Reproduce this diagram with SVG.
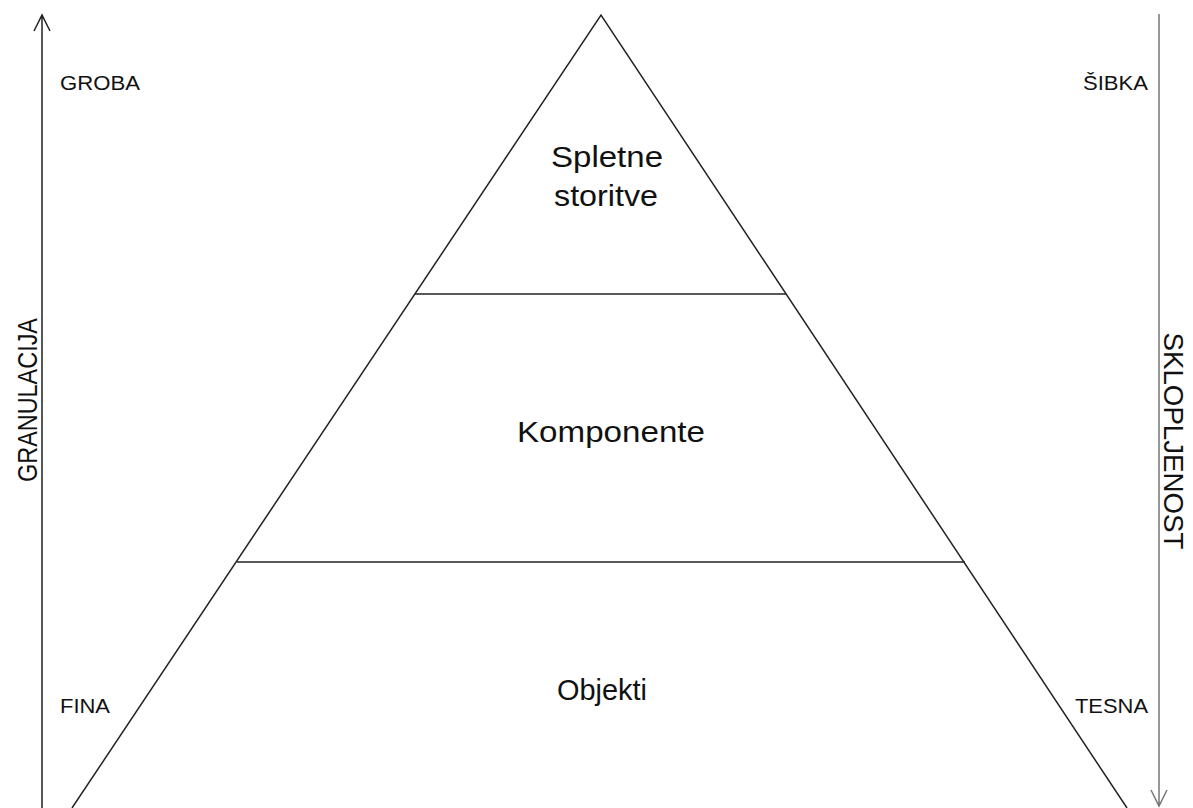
<svg xmlns="http://www.w3.org/2000/svg" width="1193" height="808" viewBox="0 0 1193 808">
<style>
.ln{stroke:#222;stroke-width:1.5;fill:none}
.ax{stroke:#222;stroke-width:1.5;fill:none}
.ax2{stroke:#777;stroke-width:1.5;fill:none}
.big{font-family:"Liberation Sans",Arial,sans-serif;font-size:30px;fill:#111}
.sm{font-family:"Liberation Sans",Arial,sans-serif;font-size:20px;fill:#111}
.axl{font-family:"Liberation Sans",Arial,sans-serif;font-size:28px;fill:#111;text-anchor:middle}
</style>
<rect width="1193" height="808" fill="#fff"/>
<g id="connectors">
<path class="ax" d="M42,808 V15 M34,31 L42,15 L50,31"/>
<path class="ax2" d="M1159,14 V806 M1151,790 L1159,806 L1167,790"/>
</g>
<g id="pyramid">
<path class="ln" d="M72,808 L601,15 L1127,808"/>
<line class="ln" x1="415" y1="294" x2="786" y2="294"/>
<line class="ln" x1="237" y1="562" x2="965" y2="562"/>
</g>
<g id="n-spletne"><text class="big" x="551" y="167" textLength="112" lengthAdjust="spacingAndGlyphs">Spletne</text><text class="big" x="554" y="206" textLength="104" lengthAdjust="spacingAndGlyphs">storitve</text></g>
<g id="n-komponente"><text class="big" x="517" y="442" textLength="188" lengthAdjust="spacingAndGlyphs">Komponente</text></g>
<g id="n-objekti"><text class="big" x="557" y="700" textLength="90" lengthAdjust="spacingAndGlyphs">Objekti</text></g>
<g id="n-groba"><text class="sm" x="60" y="90" textLength="80" lengthAdjust="spacingAndGlyphs">GROBA</text></g>
<g id="n-sibka"><text class="sm" x="1083" y="90" textLength="65" lengthAdjust="spacingAndGlyphs">ŠIBKA</text></g>
<g id="n-fina"><text class="sm" x="60" y="713" textLength="50" lengthAdjust="spacingAndGlyphs">FINA</text></g>
<g id="n-tesna"><text class="sm" x="1075" y="713" textLength="73" lengthAdjust="spacingAndGlyphs">TESNA</text></g>
<g id="n-granulacija"><text class="axl" transform="translate(37,400) rotate(-90)" textLength="164" lengthAdjust="spacingAndGlyphs">GRANULACIJA</text></g>
<g id="n-sklopljenost"><text class="axl" transform="translate(1164,441) rotate(90)" textLength="217" lengthAdjust="spacingAndGlyphs">SKLOPLJENOST</text></g>
</svg>
